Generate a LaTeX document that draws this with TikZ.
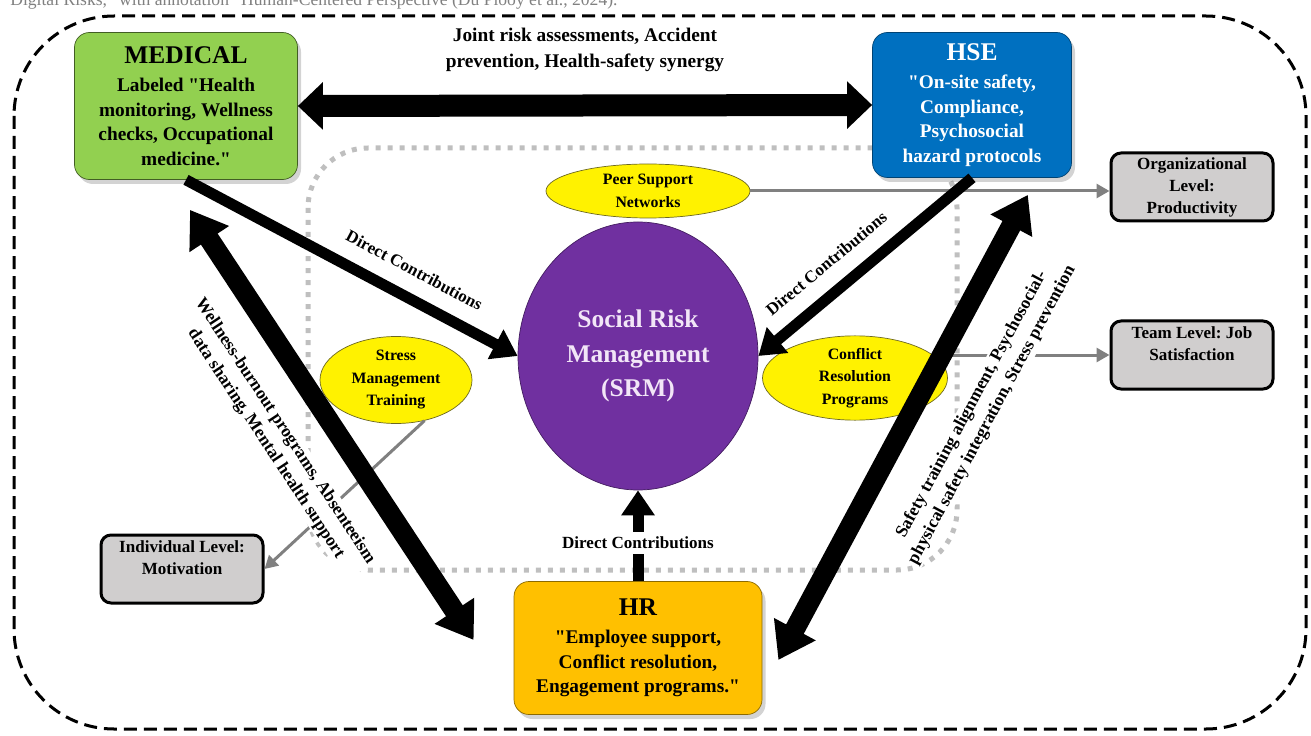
\documentclass[tikz,border=0pt]{standalone}
\usepackage{fontspec}
\setmainfont{Liberation Serif}
\usetikzlibrary{arrows.meta,shapes.geometric,shadows,calc}
\frenchspacing

\definecolor{medgreen}{HTML}{92D050}
\definecolor{hseblue}{HTML}{0070C0}
\definecolor{hrorange}{HTML}{FFC000}
\definecolor{srmpurple}{HTML}{7030A0}
\definecolor{srmtext}{HTML}{F2E6F7}
\definecolor{levelgray}{HTML}{D0CECE}
\definecolor{linkgray}{HTML}{808080}
\definecolor{zonegray}{HTML}{BFBFBF}

\begin{document}
\begin{tikzpicture}[
  x=0.2mm, y=-0.2mm,
  dtip/.tip={Triangle[length=5mm,width=6.4mm]},
  wtip/.tip={Triangle[length=5mm,width=9.2mm]},
  btip/.tip={Triangle[length=7mm,width=9mm]},
  unit/.style={
    draw,
    rounded corners=3mm,
    align=center,
    inner sep=2pt,
    font=\bfseries\fontsize{11}{14}\selectfont,
    drop shadow={opacity=0.35, shadow xshift=0.7mm, shadow yshift=-0.9mm}
  },
  hub/.style={
    ellipse,
    draw=srmpurple!60!black,
    fill=srmpurple,
    text=srmtext,
    align=center,
    inner sep=0pt,
    minimum width=48mm,
    minimum height=53.6mm,
    font=\bfseries\fontsize{14.5}{19.5}\selectfont
  },
  program/.style={
    ellipse,
    draw=olive!70!black,
    fill=yellow,
    align=center,
    inner sep=0pt,
    font=\bfseries\fontsize{9}{12.8}\selectfont
  },
  level/.style={
    draw,
    line width=0.6mm,
    rounded corners=2mm,
    fill=levelgray,
    align=center,
    minimum width=32.4mm,
    minimum height=13.6mm,
    inner sep=1pt,
    font=\bfseries\fontsize{9.7}{12.5}\selectfont
  },
  link/.style={
    draw=linkgray,
    line width=0.6mm,
    -{Triangle[length=2.6mm,width=2.8mm]}
  },
  direct/.style={line width=2.2mm, -dtip},
  synergy/.style={line width=4.4mm, wtip-wtip},
  bridge/.style={line width=4mm, btip-btip},
  dlabel/.style={inner sep=1pt, font=\bfseries\fontsize{9.7}{12}\selectfont},
  side label/.style={
    fill=white,
    inner sep=1pt,
    align=center,
    font=\bfseries\fontsize{10}{13}\selectfont
  }
]
\useasboundingbox (0,0) rectangle (1311,736);

% Caption (cut at the top)
\node[anchor=base west, inner sep=0pt, text=gray, font=\fontsize{10}{12}\selectfont] (caption) at (10,6)
  {Digital Risks,” with annotation “Human-Centered Perspective (Du Plooy et al., 2024).};

% Frames
\draw[line width=0.6mm, dash pattern=on 2.6mm off 1.4mm, rounded corners=20mm] (14,16) rectangle (1306,729);
\draw[zonegray, line width=1mm, dash pattern=on 1mm off 1.4mm, rounded corners=12mm] (308,148) rectangle (957,570);

% Nodes
\node[unit, fill=medgreen, draw=medgreen!45!black, minimum width=44.6mm, minimum height=29.4mm] (med) at (186,106)
  {{\fontsize{14.5}{17}\selectfont MEDICAL}\\[2pt] Labeled \textquotedbl Health\\ monitoring, Wellness\\ checks, Occupational\\ medicine.\textquotedbl};
\node[unit, fill=hseblue, draw=hseblue!60!black, text=white, minimum width=39.8mm, minimum height=29mm] (hse) at (972,105)
  {{\fontsize{14.5}{17}\selectfont HSE}\\[2pt] \textquotedbl On-site safety,\\ Compliance,\\ Psychosocial\\ hazard protocols};
\node[unit, fill=hrorange, draw=hrorange!55!black, minimum width=49.6mm, minimum height=26.6mm] (hr) at (638,648)
  {{\fontsize{14.5}{17}\selectfont HR}\\[2pt] \textquotedbl Employee support,\\ Conflict resolution,\\ Engagement programs.\textquotedbl};
\node[hub] (srm) at (638,356) {Social Risk\\ Management\\ (SRM)};

\node[program, minimum width=40.8mm, minimum height=10.8mm] (peer) at (648,191) {Peer Support\\ Networks};
\node[program, minimum width=30.4mm, minimum height=17.4mm] (stress) at (396,380) {Stress\\ Management\\ Training};
\node[program, minimum width=37mm, minimum height=16.8mm] (conf) at (855,378) {Conflict\\ Resolution\\ Programs};

\node[level] (org) at (1192,187) {Organizational\\ Level:\\ Productivity};
\node[level] (team) at (1192,355) {Team Level: Job\\ Satisfaction\\ \mbox{}};
\node[level] (ind) at (182,569) {Individual Level:\\ Motivation\\ \mbox{}};

% Outcome links
\draw[link] (peer.east) -- (peer.east -| org.west);
\draw[link] (conf.east |- team.west) -- (team.west);
\draw[link] (stress.-55) -- (ind.east);

% Contributions
\draw[synergy] (med.east) -- node[side label, above=12pt, fill=none, font=\bfseries\fontsize{11}{14.5}\selectfont]
  {Joint risk assessments, Accident\\ prevention, Health-safety synergy} (hse.west);
\draw[direct] (med.south) -- node[dlabel, sloped, above=8pt, pos=0.65] {Direct Contributions} (srm.west);
\draw[direct, dtip-] (srm.east) -- node[dlabel, sloped, above=8pt, pos=0.4] {Direct Contributions} (hse.south);
\draw[direct] (hr.north) -- node[dlabel, fill=white, inner sep=3pt, pos=0.42] {Direct Contributions} (srm.south);

\draw[bridge] ($(med.south)+(4,30)$) -- node[side label, sloped, below=13pt, pos=0.46]
  {Wellness-burnout programs, Absenteeism\\ data sharing, Mental health support} ($(hr.west)+(-40,-8)$);
\draw[bridge] ($(hr.east)+(16,12)$) -- node[side label, sloped, below=17pt, pos=0.6]
  {Safety training alignment, Psychosocial-\\ physical safety integration, Stress prevention} ($(hse.south east)+(-44,17)$);

\end{tikzpicture}
\end{document}
